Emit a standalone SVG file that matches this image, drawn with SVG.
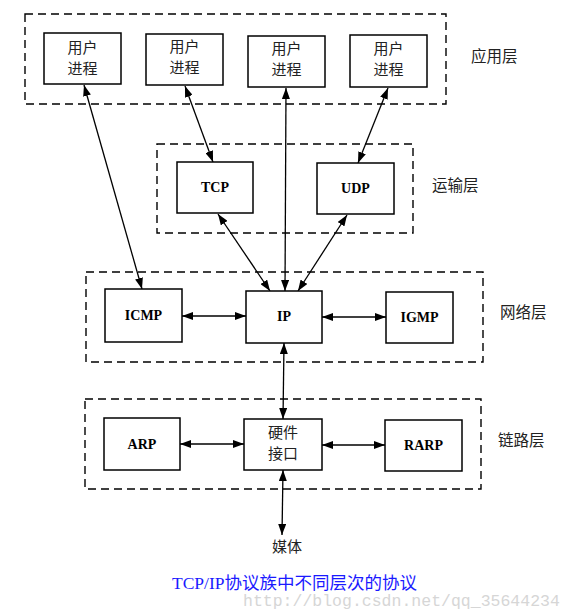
<svg xmlns="http://www.w3.org/2000/svg" width="585" height="615" viewBox="0 0 585 615">
<defs>
<marker id="ah" viewBox="0 0 11 8" refX="11" refY="4" markerWidth="11" markerHeight="8" markerUnits="userSpaceOnUse" orient="auto-start-reverse">
<path d="M0,0 L11,4 L0,8 Z" fill="#000"/>
</marker>
</defs>
<style>
.layer{fill:none;stroke:#000;stroke-width:1.4;stroke-dasharray:8,5}
.box{fill:#fff;stroke:#000;stroke-width:1.5}
.zh{font-family:"Noto Sans CJK SC","Noto Sans",sans-serif;font-size:15px;fill:#222;text-anchor:middle}
.en{font-family:"Liberation Serif",serif;font-weight:bold;font-size:14px;fill:#000;text-anchor:middle}
.lbl{font-family:"Noto Sans CJK SC","Noto Sans",sans-serif;font-size:15.5px;fill:#222}
.c{fill:none;stroke:#000;stroke-width:1.3;marker-start:url(#ah);marker-end:url(#ah)}
</style>
<rect width="585" height="615" fill="#fff"/>
<g id="layers">
<rect class="layer" x="25" y="14" width="421" height="90"/>
<rect class="layer" x="157" y="144" width="256" height="89"/>
<rect class="layer" x="86" y="272" width="397" height="90"/>
<rect class="layer" x="85" y="399" width="396" height="90"/>
<text class="lbl" x="471" y="62">应用层</text>
<text class="lbl" x="432" y="191">运输层</text>
<text class="lbl" x="500" y="318">网络层</text>
<text class="lbl" x="498" y="446">链路层</text>
</g>
<g id="connectors">
<line class="c" x1="84" y1="85" x2="142" y2="289"/>
<line class="c" x1="185" y1="86" x2="213" y2="162"/>
<line class="c" x1="286" y1="88" x2="285" y2="291"/>
<line class="c" x1="388" y1="88" x2="358" y2="163"/>
<line class="c" x1="218" y1="214" x2="270" y2="291"/>
<line class="c" x1="347" y1="215" x2="298" y2="291"/>
<line class="c" x1="182" y1="316" x2="246" y2="316"/>
<line class="c" x1="322" y1="317" x2="386" y2="317"/>
<line class="c" x1="284" y1="343" x2="283" y2="419"/>
<line class="c" x1="180" y1="444" x2="244" y2="444"/>
<line class="c" x1="322" y1="445" x2="385" y2="445"/>
<line class="c" x1="283" y1="470" x2="282" y2="535"/>
</g>
<g id="app1"><rect class="box" x="44" y="33" width="77" height="51"/><text class="zh" x="82.5" y="53">用户</text><text class="zh" x="82.5" y="74">进程</text></g>
<g id="app2"><rect class="box" x="146" y="34" width="77" height="51"/><text class="zh" x="184.5" y="52">用户</text><text class="zh" x="184.5" y="73">进程</text></g>
<g id="app3"><rect class="box" x="248" y="36" width="77" height="51"/><text class="zh" x="286.5" y="54">用户</text><text class="zh" x="286.5" y="75">进程</text></g>
<g id="app4"><rect class="box" x="350" y="35" width="77" height="52"/><text class="zh" x="388.5" y="54">用户</text><text class="zh" x="388.5" y="75">进程</text></g>
<g id="tcp"><rect class="box" x="177" y="162" width="76" height="51"/><text class="en" x="215" y="192">TCP</text></g>
<g id="udp"><rect class="box" x="317" y="163" width="77" height="51"/><text class="en" x="355.5" y="193">UDP</text></g>
<g id="icmp"><rect class="box" x="105" y="289" width="77" height="53"/><text class="en" x="143.5" y="320">ICMP</text></g>
<g id="ip"><rect class="box" x="246" y="291" width="76" height="52"/><text class="en" x="284" y="321">IP</text></g>
<g id="igmp"><rect class="box" x="386" y="292" width="67" height="51"/><text class="en" x="419.5" y="322">IGMP</text></g>
<g id="arp"><rect class="box" x="104" y="418" width="76" height="52"/><text class="en" x="142" y="449">ARP</text></g>
<g id="hw"><rect class="box" x="244" y="419" width="78" height="51"/><text class="zh" x="283" y="438">硬件</text><text class="zh" x="283" y="459">接口</text></g>
<g id="rarp"><rect class="box" x="385" y="420" width="77" height="51"/><text class="en" x="423.5" y="450">RARP</text></g>
<g id="media"><text class="zh" x="287" y="552">媒体</text></g>
<text x="172" y="589" font-family="Liberation Serif,'Noto Sans CJK SC',serif" font-size="17.5" fill="#1a1aff">TCP/IP<tspan font-family="'Noto Sans CJK SC',sans-serif">协议族中不同层次的协议</tspan></text>
<text x="243" y="606" font-family="'Liberation Mono',monospace" font-size="16.5" fill="#d6d6d6">http://blog.csdn.net/qq_35644234</text>
</svg>
